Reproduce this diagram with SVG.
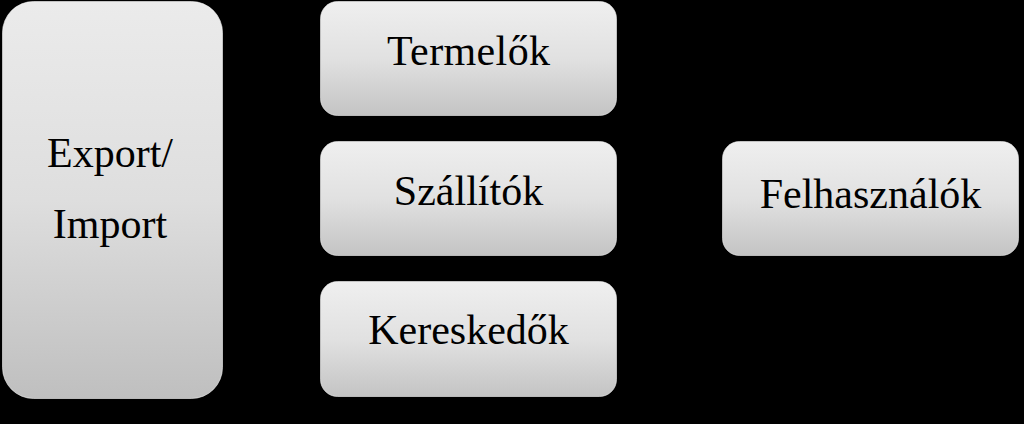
<svg xmlns="http://www.w3.org/2000/svg" width="1024" height="424" viewBox="0 0 1024 424">
<defs>
<linearGradient id="g" x1="0" y1="0" x2="0" y2="1">
<stop offset="0" stop-color="#efefef"/>
<stop offset="0.5" stop-color="#e1e1e1"/>
<stop offset="1" stop-color="#c4c4c4"/>
</linearGradient>
<linearGradient id="gt" x1="0" y1="0" x2="0" y2="1">
<stop offset="0" stop-color="#ebebeb"/>
<stop offset="0.5" stop-color="#dedede"/>
<stop offset="1" stop-color="#bfbfbf"/>
</linearGradient>
<style>
.box{fill:url(#g);stroke:#f4f4f4;stroke-opacity:0.6;stroke-width:1}
.tall{fill:url(#gt)}
.lbl{font-family:"Liberation Serif","Times New Roman",serif;font-size:42px;fill:#000;text-anchor:middle}
</style>
</defs>
<rect width="1024" height="424" fill="#000"/>
<g id="export-import">
<rect class="box tall" x="2.5" y="1.5" width="220" height="397" rx="31" ry="31"/>
<text class="lbl" x="110" y="167">Export/</text>
<text class="lbl" x="110" y="238">Import</text>
</g>
<g id="termelok">
<rect class="box" x="320.5" y="1.5" width="296" height="114" rx="17" ry="17"/>
<text class="lbl" x="468.5" y="65" textLength="163" lengthAdjust="spacing">Termelők</text>
</g>
<g id="szallitok">
<rect class="box" x="320.5" y="141.5" width="296" height="114" rx="17" ry="17"/>
<text class="lbl" x="468.5" y="205">Szállítók</text>
</g>
<g id="kereskedok">
<rect class="box" x="320.5" y="281.5" width="296" height="115" rx="17" ry="17"/>
<text class="lbl" x="468.5" y="344">Kereskedők</text>
</g>
<g id="felhasznalok">
<rect class="box" x="722.5" y="141.5" width="296" height="114" rx="17" ry="17"/>
<text class="lbl" x="870.5" y="208">Felhasználók</text>
</g>
<g id="connectors"/>
</svg>
